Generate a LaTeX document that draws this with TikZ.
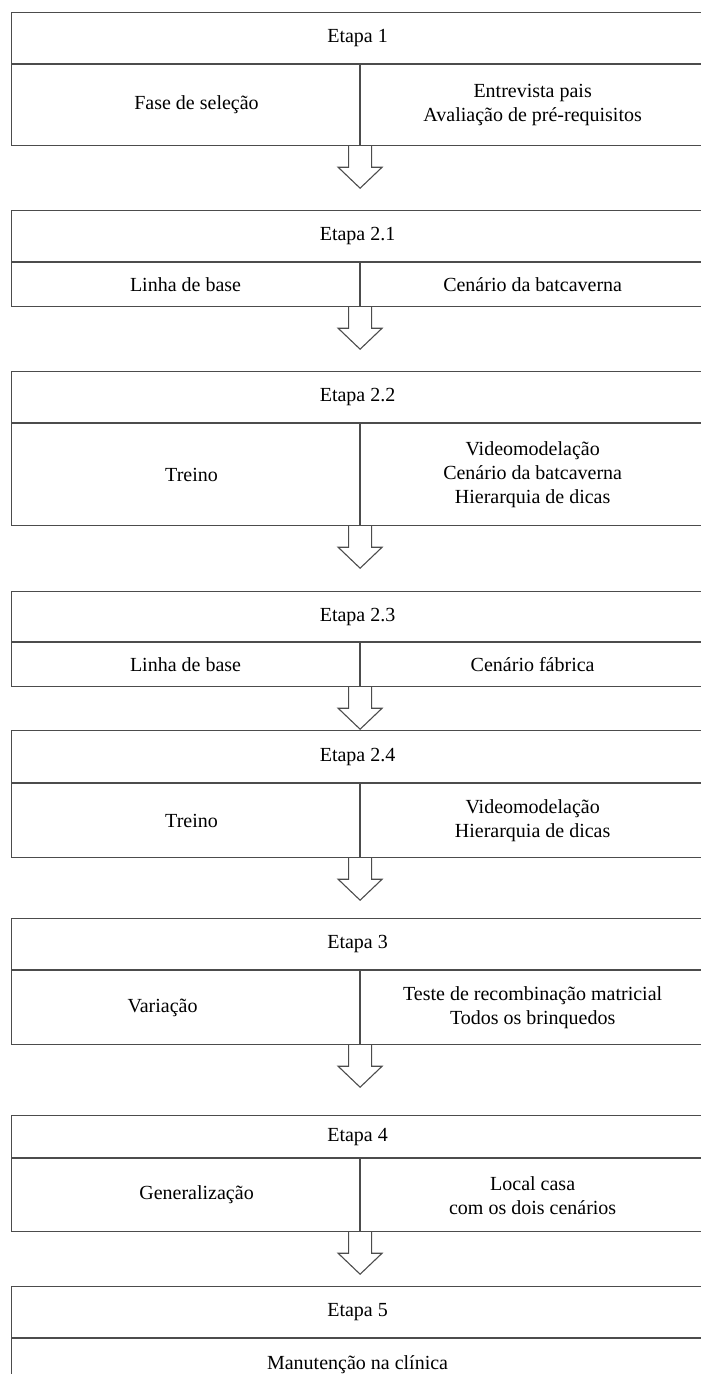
\documentclass[tikz,border=0pt]{standalone}
\usepackage{fontspec}
\setmainfont{Liberation Serif}
\usetikzlibrary{positioning}
\colorlet{trait}{black!70}
%% fleche creuse sous une case
\newcommand{\seta}[1]{\draw[seta] (#1) ++(-11.5,0) -- ++(0,21) -- ++(-10.5,0) -- ++(22,21) -- ++(22,-21) -- ++(-10.5,0) -- ++(0,-21);}

\begin{document}
\begin{tikzpicture}[x=1pt,y=-1pt,font=\fontsize{20}{24}\selectfont,
  etapa/.style={draw=trait,line width=1.1pt,rectangle,anchor=north west,inner sep=0pt,minimum width=692pt,align=center},
  cellule/.style={draw=trait,line width=1.1pt,rectangle,anchor=north west,inner sep=0pt,align=center},
  seta/.style={draw=trait,line width=1.1pt}]%
\useasboundingbox (0,0) rectangle (701,1374);%%
\clip (0,0) rectangle (701,1374);%%
%%ETAPA 1
\node[etapa,minimum height=51pt] (e1) at (11,12) {Etapa 1};%%
\node[cellule,minimum width=348pt,minimum height=81pt] (g1) at (e1.south west) {\hspace*{22pt}Fase de seleção};%%
\node[cellule,minimum width=344pt,minimum height=81pt] (d1) at (g1.north east) {Entrevista pais\\Avaliação de pré-requisitos};%%
\seta{g1.south east}%%
%%ETAPA 2.1
\node[etapa,minimum height=51pt] (e21) at (11,210) {Etapa 2.1};%%
\node[cellule,minimum width=348pt,minimum height=44pt] (g21) at (e21.south west) {Linha de base};%%
\node[cellule,minimum width=344pt,minimum height=44pt] (d21) at (g21.north east) {Cenário da batcaverna};%%
\seta{g21.south east}%%
%%ETAPA 2.2
\node[etapa,minimum height=51pt] (e22) at (11,371) {Etapa 2.2};%%
\node[cellule,minimum width=348pt,minimum height=102pt] (g22) at (e22.south west) {\hspace*{12pt}Treino};%%
\node[cellule,minimum width=344pt,minimum height=102pt] (d22) at (g22.north east) {Videomodelação\\Cenário da batcaverna\\Hierarquia de dicas};%%
\seta{g22.south east}%%
%%ETAPA 2.3
\node[etapa,minimum height=50pt] (e23) at (11,591) {Etapa 2.3};%%
\node[cellule,minimum width=348pt,minimum height=44pt] (g23) at (e23.south west) {Linha de base};%%
\node[cellule,minimum width=344pt,minimum height=44pt] (d23) at (g23.north east) {Cenário fábrica};%%
\seta{g23.south east}%%
%%ETAPA 2.4
\node[etapa,minimum height=52pt] (e24) at (11,730) {Etapa 2.4};%%
\node[cellule,minimum width=348pt,minimum height=74pt] (g24) at (e24.south west) {\hspace*{12pt}Treino};%%
\node[cellule,minimum width=344pt,minimum height=74pt] (d24) at (g24.north east) {Videomodelação\\Hierarquia de dicas};%%
\seta{g24.south east}%%
%%ETAPA 3
\node[etapa,minimum height=51pt] (e3) at (11,918) {Etapa 3};%%
\node[cellule,minimum width=348pt,minimum height=74pt] (g3) at (e3.south west) {Variação\hspace*{46pt}};%%
\node[cellule,minimum width=344pt,minimum height=74pt] (d3) at (g3.north east) {Teste de recombinação matricial\\Todos os brinquedos};%%
\seta{g3.south east}%%
%%ETAPA 4
\node[etapa,minimum height=42pt] (e4) at (11,1115) {Etapa 4};%%
\node[cellule,minimum width=348pt,minimum height=73pt] (g4) at (e4.south west) {\hspace*{22pt}Generalização};%%
\node[cellule,minimum width=344pt,minimum height=73pt] (d4) at (g4.north east) {Local casa\\com os dois cenários};%%
\seta{g4.south east}%%
%%ETAPA 5
\node[etapa,minimum height=51pt] (e5) at (11,1286) {Etapa 5};%%
\node[etapa,minimum height=52pt] (g5) at (e5.south west) {Manutenção na clínica};%%
\end{tikzpicture}
\end{document}
